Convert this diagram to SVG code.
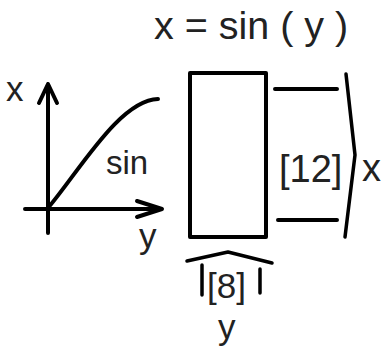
<svg xmlns="http://www.w3.org/2000/svg" width="392" height="347" viewBox="0 0 392 347">
<style>
.ln{fill:none;stroke:#000;stroke-width:4;stroke-linecap:round;stroke-linejoin:round}
.th{fill:none;stroke:#000;stroke-width:3.5;stroke-linecap:round;stroke-linejoin:round}
.t{font-family:"Liberation Sans",Arial,sans-serif;fill:#222}
</style>
<rect width="392" height="347" fill="#fff"/>
<text class="t" x="154" y="39" font-size="39.5">x = sin ( y )</text>
<g id="graph">
<path class="ln" d="M48,233 L48,84 M39,103 L48,84 L57,103"/>
<path class="ln" d="M25,209 L162,209 M137,201 L162,209 L137,217"/>
<path class="ln" d="M48,208 C80,170 120,100 158,99"/>
<text class="t" x="6" y="101" font-size="35">x</text>
<text class="t" x="106" y="174" font-size="33">sin</text>
<text class="t" x="139" y="248" font-size="35">y</text>
</g>
<g id="block">
<rect class="ln" x="190" y="73" width="76" height="164"/>
</g>
<g id="output">
<path class="ln" d="M275,89 L337,89 M278,220 L337,220"/>
<path class="th" d="M346,74 L355,155 L345,237"/>
<text class="t" x="279" y="182" font-size="38">[12]</text>
<text class="t" x="362" y="181" font-size="38">x</text>
</g>
<g id="input">
<path class="th" d="M187,261 L228,252 L272,263"/>
<path class="th" d="M202,265 L202,295 M260,269 L260,293"/>
<text class="t" x="207" y="298" font-size="35">[8]</text>
<text class="t" x="218" y="339" font-size="35">y</text>
</g>
</svg>
